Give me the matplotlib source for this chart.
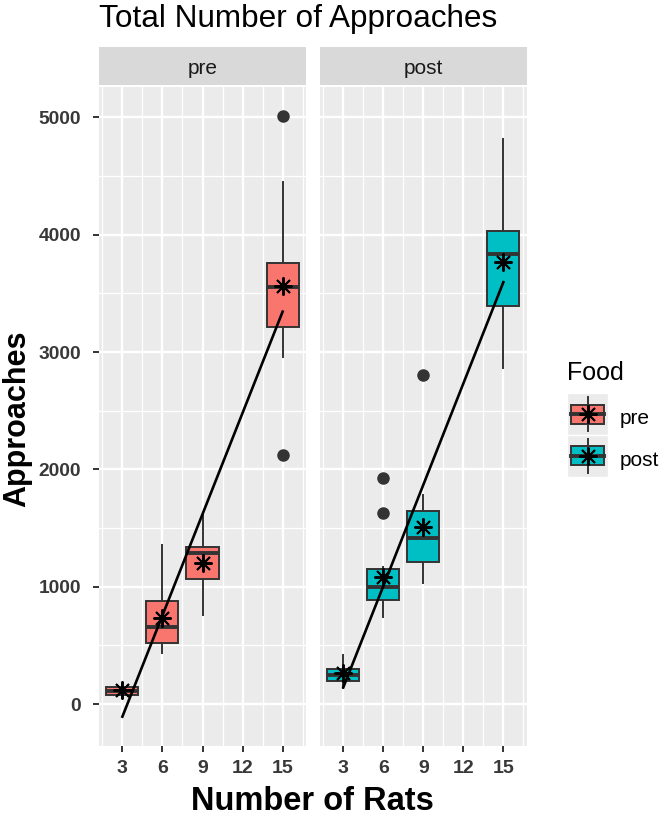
import numpy as np
import matplotlib
matplotlib.use("Agg")
import matplotlib.pyplot as plt
from matplotlib.patches import Rectangle

plt.rcParams['font.family'] = ['Liberation Sans', 'DejaVu Sans']

# number of rats on the x axis
rats = [3, 6, 9, 15]
panels = ['pre', 'post']

# box statistics, one list per panel
pre_q1 = [80, 517, 1063, 3217]
pre_med = [115, 654, 1290, 3558]
pre_q3 = [145, 881, 1336, 3762]
pre_lo = [55, 432, 756, 2956]
pre_hi = [170, 1355, 1611, 4453]
pre_mean = [119, 730, 1205, 3560]
pre_out = [[], [], [], [5010, 2123]]

post_q1 = [199, 887, 1213, 3396]
post_med = [247, 1000, 1413, 3834]
post_q3 = [296, 1148, 1648, 4035]
post_lo = [134, 739, 1029, 2862]
post_hi = [418, 1170, 1782, 4814]
post_mean = [262, 1085, 1512, 3771]
post_out = [[], [1924, 1626], [2805], []]

# linear fit (slope, intercept) for each panel
pre_fit = [287.7, -971.0]
post_fit = [287.8, -721.0]

colors = {'pre': '#F8766D', 'post': '#00BFC4'}
edge = '#333333'

data = {
    'pre': (pre_q1, pre_med, pre_q3, pre_lo, pre_hi, pre_mean, pre_out, pre_fit),
    'post': (post_q1, post_med, post_q3, post_lo, post_hi, post_mean, post_out, post_fit),
}

W, H = 667, 817
fig = plt.figure(figsize=(W / 100, H / 100), dpi=100)


def fx(px):
    return px / W


def fy(py):
    return 1 - py / H


panel_x = {'pre': (99, 306), 'post': (320, 526.7)}
panel_top, panel_bot = 87.3, 746
strip_top, strip_bot = 46.7, 85

for name in panels:
    q1, med, q3, lo, hi, mean, out, fit = data[name]
    x0, x1 = panel_x[name]
    ax = fig.add_axes([fx(x0), fy(panel_bot), fx(x1 - x0), (panel_bot - panel_top) / H])
    ax.set_facecolor('#EBEBEB')
    for s in ax.spines.values():
        s.set_visible(False)

    stats = []
    for i in range(len(rats)):
        stats.append(dict(q1=q1[i], med=med[i], q3=q3[i], whislo=lo[i], whishi=hi[i],
                          mean=mean[i], fliers=out[i]))
    ax.bxp(stats, positions=rats, widths=2.4, patch_artist=True, showmeans=True,
           showcaps=False, manage_ticks=False,
           boxprops=dict(facecolor=colors[name], edgecolor=edge, linewidth=1.4),
           whiskerprops=dict(color=edge, linewidth=1.4),
           medianprops=dict(color=edge, linewidth=2.8),
           meanprops=dict(marker=(8, 2, 0), markersize=13, markeredgecolor='black',
                          markeredgewidth=1.4, markerfacecolor='black'),
           flierprops=dict(marker='o', markersize=8, markerfacecolor=edge,
                           markeredgecolor=edge))

    xs = np.array([rats[0], rats[-1]])
    ax.plot(xs, np.polyval(fit, xs), color='black', lw=1.9, zorder=5)

    ax.set_xlim(1.25, 16.75)
    ax.set_ylim(-358, 5257)
    ax.set_xticks([3, 6, 9, 12, 15])
    ax.set_xticks([1.5, 4.5, 7.5, 10.5, 13.5, 16.5], minor=True)
    ax.set_yticks([0, 1000, 2000, 3000, 4000, 5000])
    ax.set_yticks([500, 1500, 2500, 3500, 4500], minor=True)
    ax.grid(which='major', color='white', lw=1.7)
    ax.grid(which='minor', color='white', lw=0.9)
    ax.set_axisbelow(True)
    ax.tick_params(which='minor', length=0)
    ax.tick_params(axis='x', which='major', length=4, width=1.4, color=edge, pad=6,
                   labelsize=14, labelcolor='#383838')
    for lab in ax.get_xticklabels():
        lab.set_fontweight('bold')
    if name == 'pre':
        ax.tick_params(axis='y', which='major', length=4, width=1.4, color=edge, pad=9,
                       labelsize=13.8, labelcolor='#383838')
        for lab in ax.get_yticklabels():
            lab.set_fontweight('bold')
    else:
        ax.tick_params(axis='y', which='major', length=0, labelleft=False)

    # facet strip
    sax = fig.add_axes([fx(x0), fy(strip_bot), fx(x1 - x0), (strip_bot - strip_top) / H])
    sax.set_facecolor('#D9D9D9')
    sax.set_xticks([])
    sax.set_yticks([])
    for s in sax.spines.values():
        s.set_visible(False)
    sax.text(0.5, (strip_bot - 74.5) / (strip_bot - strip_top), name, ha='center',
             va='baseline', fontsize=15, color='#1A1A1A', transform=sax.transAxes)

fig.text(fx(99), fy(26.7), 'Total Number of Approaches', fontsize=22.7,
         ha='left', va='baseline', color='black')
fig.text(fx(312), fy(810), 'Number of Rats', fontsize=23.5, fontweight='bold',
         ha='center', va='baseline')
fig.text(fx(17), fy(419), 'Approaches', fontsize=22, fontweight='bold',
         rotation=90, ha='center', va='center')

# legend
fig.text(fx(566.7), fy(380), 'Food', fontsize=18, ha='left', va='baseline')
lax = fig.add_axes([fx(566.7), fy(476.7), fx(41.6), 83.4 / H])
lax.set_xlim(0, 1)
lax.set_ylim(0, 2)
lax.axis('off')
for k, name in enumerate(panels):
    base = 1 - k
    lax.add_patch(Rectangle((0, base), 1, 1, facecolor='#EBEBEB', edgecolor='white', lw=1))
    lax.add_patch(Rectangle((0.1, base + 0.27), 0.8, 0.46, facecolor=colors[name],
                            edgecolor=edge, lw=1.4, zorder=3))
    lax.plot([0.1, 0.9], [base + 0.5, base + 0.5], color=edge, lw=2.8, zorder=4)
    lax.plot([0.5], [base + 0.5], marker=(8, 2, 0), markersize=13, color='black',
             markeredgewidth=1.4, zorder=5)
    lax.plot([0.5, 0.5], [base + 0.1, base + 0.9], color=edge, lw=1.4, zorder=4)
    fig.text(fx(620), fy(418 + 42 * k), name, fontsize=15, ha='left', va='center')

fig.savefig('out.png', dpi=100)
